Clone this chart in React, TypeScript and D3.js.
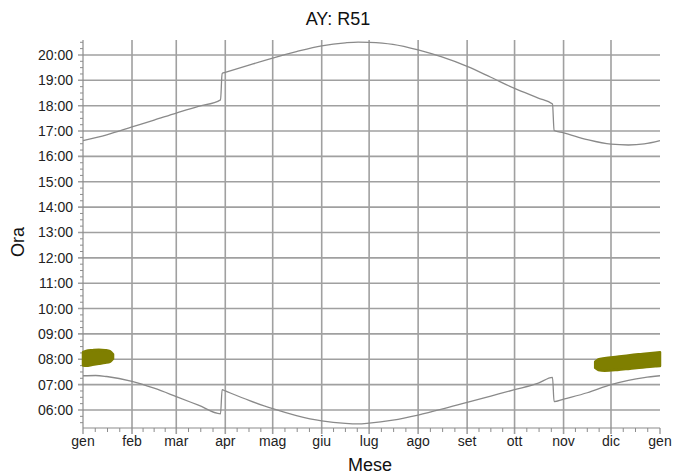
import React from "react";
import * as d3 from "d3";

const monthStarts = [0, 31, 59, 90, 120, 151, 181, 212, 243, 273, 304, 334, 365];
const monthLabels = ["gen", "feb", "mar", "apr", "mag", "giu", "lug", "ago", "set", "ott", "nov", "dic", "gen"];
const hourTicks = [6, 7, 8, 9, 10, 11, 12, 13, 14, 15, 16, 17, 18, 19, 20];

// sunset (upper curve), day of year -> hour
const sunsetDays = [0, 15, 31, 45, 59, 73, 87, 88, 90, 105, 120, 135, 151, 166, 174, 181, 196, 212, 227, 243, 258, 273, 288, 297, 298, 304, 319, 334, 345, 355, 365];
const sunsetHours = [16.62, 16.85, 17.16, 17.43, 17.71, 17.97, 18.23, 19.27, 19.31, 19.6, 19.88, 20.13, 20.36, 20.48, 20.51, 20.5, 20.42, 20.2, 19.92, 19.55, 19.12, 18.68, 18.3, 18.07, 17.02, 16.93, 16.66, 16.48, 16.45, 16.49, 16.62];

// sunrise (lower curve)
const sunriseDays = [0, 8, 15, 31, 45, 59, 73, 87, 88, 90, 105, 120, 135, 151, 166, 174, 181, 196, 212, 227, 243, 258, 273, 288, 297, 298, 304, 319, 334, 345, 355, 365];
const sunriseHours = [7.35, 7.36, 7.32, 7.13, 6.86, 6.53, 6.19, 5.85, 6.8, 6.75, 6.38, 6.05, 5.78, 5.57, 5.47, 5.45, 5.48, 5.6, 5.8, 6.03, 6.3, 6.55, 6.8, 7.06, 7.29, 6.33, 6.43, 6.68, 7.0, 7.17, 7.28, 7.35];

// olive bands
const band1Days = [0, 2, 6, 10, 14, 17, 19];
const band1Hi = [8.28, 8.33, 8.36, 8.38, 8.36, 8.32, 8.2];
const band1Lo = [7.75, 7.74, 7.78, 7.82, 7.86, 7.9, 8.02];

const band2Days = [324, 326, 330, 338, 346, 354, 362, 365];
const band2Hi = [7.9, 7.99, 8.04, 8.1, 8.16, 8.21, 8.26, 8.28];
const band2Lo = [7.66, 7.58, 7.55, 7.58, 7.63, 7.68, 7.72, 7.73];

const W = 674;
const H = 474;
const L = 83, R = 660, T = 40, B = 428;
const FONT = "'Liberation Sans', Arial, sans-serif";
const GRID = "#a0a0a0";
const AXIS = "#8c8c8c";
const LINE = "#8a8a8a";
const OLIVE = "#7f7f00";

function fmt(h: number) {
  return (h < 10 ? "0" : "") + h + ":00";
}

export default function App() {
  const x = d3.scaleLinear().domain([0, 365]).range([L, R]);
  const y = d3.scaleLinear().domain([5.29, 20.59]).range([B, T]);

  const line = d3
    .line<[number, number]>()
    .x((d) => x(d[0]))
    .y((d) => y(d[1]))
    .curve(d3.curveMonotoneX);

  const sunset = line(sunsetDays.map((d, i) => [d, sunsetHours[i]] as [number, number])) || "";
  const sunrise = line(sunriseDays.map((d, i) => [d, sunriseHours[i]] as [number, number])) || "";

  const area = d3
    .area<[number, number, number]>()
    .x((d) => x(d[0]))
    .y0((d) => y(d[1]))
    .y1((d) => y(d[2]))
    .curve(d3.curveMonotoneX);

  const band1 = area(band1Days.map((d, i) => [d, band1Lo[i], band1Hi[i]] as [number, number, number])) || "";
  const band2 = area(band2Days.map((d, i) => [d, band2Lo[i], band2Hi[i]] as [number, number, number])) || "";

  const minorX: number[] = [];
  for (let m = 0; m < 12; m++) {
    const a = monthStarts[m], b = monthStarts[m + 1];
    for (let k = 1; k < 4; k++) minorX.push(a + ((b - a) * k) / 4);
  }
  const minorY: number[] = [];
  for (let v = 5.25; v <= 20.59; v += 0.25) {
    if (v >= 5.29 && Math.abs(v - Math.round(v)) > 0.01) minorY.push(v);
  }

  return (
    <svg
      width={W}
      height={H}
      style={{ position: "absolute", left: 0, top: 0, background: "#fff" }}
      fontFamily={FONT}
    >
      <rect x={0} y={0} width={W} height={H} fill="#fff" />
      <text x={338} y={25} textAnchor="middle" fontSize={18} fill="#111">
        AY: R51
      </text>

      {/* grid */}
      {hourTicks.map((h) => (
        <line key={"hg" + h} x1={L - 5} x2={R} y1={y(h)} y2={y(h)} stroke={GRID} strokeWidth={1.6} />
      ))}
      {monthStarts.slice(1, 12).map((d) => (
        <line key={"vg" + d} x1={x(d)} x2={x(d)} y1={T} y2={B + 6} stroke={GRID} strokeWidth={1.6} />
      ))}

      {/* axes */}
      <line x1={L} x2={L} y1={T} y2={B + 6} stroke={AXIS} strokeWidth={1.2} />
      <line x1={L} x2={R} y1={B} y2={B} stroke={AXIS} strokeWidth={1.2} />
      <line x1={R} x2={R} y1={B} y2={B + 6} stroke={AXIS} strokeWidth={1.2} />
      {minorY.map((v, i) => (
        <line key={"my" + i} x1={L - 3} x2={L} y1={y(v)} y2={y(v)} stroke={AXIS} strokeWidth={1} />
      ))}
      {minorX.map((v, i) => (
        <line key={"mx" + i} x1={x(v)} x2={x(v)} y1={B} y2={B + 4} stroke={AXIS} strokeWidth={1} />
      ))}

      {/* tick labels */}
      {hourTicks.map((h) => (
        <text key={"yl" + h} x={73} y={y(h) + 5} textAnchor="end" fontSize={14} fill="#222">
          {fmt(h)}
        </text>
      ))}
      {monthStarts.map((d, i) => (
        <text key={"xl" + i} x={x(d)} y={446} textAnchor="middle" fontSize={14} fill="#222">
          {monthLabels[i]}
        </text>
      ))}

      {/* axis titles */}
      <text x={370} y={471} textAnchor="middle" fontSize={18} fill="#111">
        Mese
      </text>
      <text transform={`translate(24,242) rotate(-90)`} textAnchor="middle" fontSize={18} fill="#111">
        Ora
      </text>

      {/* curves */}
      <path d={sunset} fill="none" stroke={LINE} strokeWidth={1.3} />
      <path d={sunrise} fill="none" stroke={LINE} strokeWidth={1.3} />

      {/* olive bands */}
      <path d={band1} fill={OLIVE} stroke={OLIVE} strokeWidth={2.5} strokeLinejoin="round" />
      <path d={band2} fill={OLIVE} stroke={OLIVE} strokeWidth={2.5} strokeLinejoin="round" />
    </svg>
  );
}
